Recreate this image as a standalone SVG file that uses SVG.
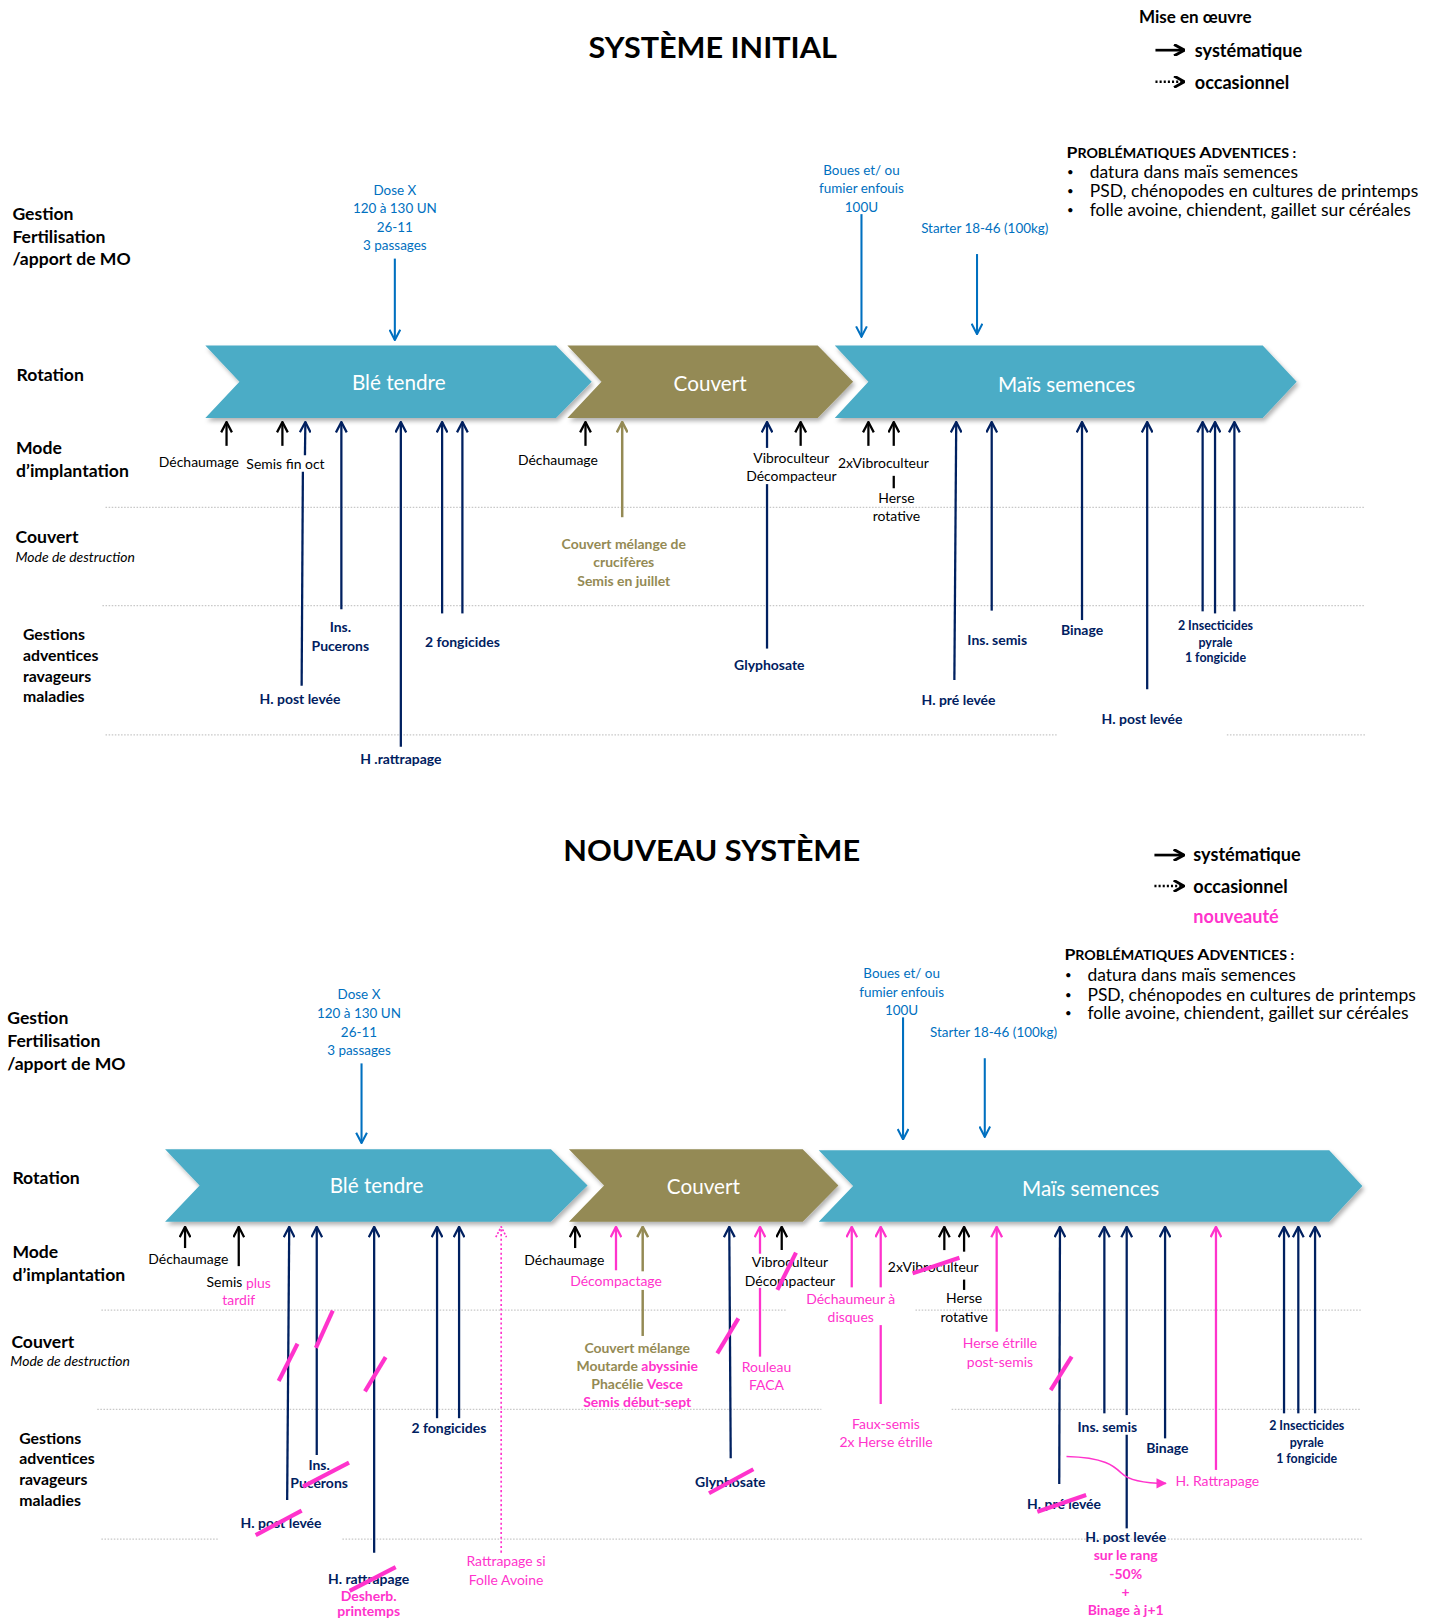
<svg xmlns="http://www.w3.org/2000/svg" width="1442" height="1622" viewBox="0 0 1442 1622">
<style>
text{font-family:Lato,"Liberation Sans",sans-serif;}
.c{dominant-baseline:central;text-anchor:middle;}
.s{dominant-baseline:central;text-anchor:start;}
.lb{font-weight:bold;font-size:17px;fill:#000;}
.lg{font-weight:bold;font-size:15.3px;fill:#000;}
.it{font-style:italic;font-size:13.5px;fill:#000;}
.t{font-size:13.5px;fill:#000;}
.nv{font-size:13.5px;font-weight:bold;fill:#002060;}
.nvs{font-size:12px;font-weight:bold;fill:#002060;}
.bl{font-size:13px;fill:#0070C0;}
.ol{font-size:13.5px;font-weight:bold;fill:#948A54;}
.pk{font-size:13.5px;fill:#FF33CC;}
.pkb{font-size:13.5px;font-weight:bold;fill:#FF33CC;}
.ttl{font-weight:bold;font-size:27px;fill:#000;}
.leg{font-weight:bold;font-size:17.5px;fill:#000;}
.legp{font-weight:bold;font-size:17.5px;fill:#FF33CC;}
.pb{font-size:16.9px;fill:#000;}
.bu{font-size:11px;fill:#000;}
.chv{font-size:20px;fill:#fff;}
.sep{stroke:#C8C8C8;stroke-width:1.2;stroke-dasharray:1.5 1.5;fill:none;}
.ak{stroke:#000;stroke-width:2.2;fill:none;marker-end:url(#hk);}
.an{stroke:#002060;stroke-width:2.2;fill:none;marker-end:url(#hn);}
.nl{stroke:#002060;stroke-width:2.2;fill:none;}
.ab{stroke:#0070C0;stroke-width:2;fill:none;marker-end:url(#hb);}
.ao{stroke:#948A54;stroke-width:2.4;fill:none;marker-end:url(#ho);}
.ol2{stroke:#948A54;stroke-width:2.4;fill:none;}
.ap{stroke:#FF33CC;stroke-width:2.2;fill:none;marker-end:url(#hp);}
.pl{stroke:#FF33CC;stroke-width:2.2;fill:none;}
.apd{stroke:#FF33CC;stroke-width:1.6;stroke-dasharray:2 2.5;fill:none;marker-end:url(#hpd);}
.ln{stroke-width:2.2;fill:none;}
.sl{stroke:#FF33CC;stroke-width:4;stroke-linecap:butt;}
</style>
<defs>
<filter id="sh" x="-5%" y="-20%" width="110%" height="150%"><feDropShadow dx="2" dy="3" stdDeviation="2" flood-color="#000" flood-opacity="0.3"/></filter>
<marker id="hk" markerUnits="userSpaceOnUse" viewBox="0 0 12 12" markerWidth="12" markerHeight="12" refX="11" refY="6" orient="auto"><path d="M1,0.8 L11,6 L1,11.2" fill="none" stroke="#000" stroke-width="2.2"/></marker>
<marker id="hn" markerUnits="userSpaceOnUse" viewBox="0 0 12 12" markerWidth="12" markerHeight="12" refX="11" refY="6" orient="auto"><path d="M1,0.8 L11,6 L1,11.2" fill="none" stroke="#002060" stroke-width="2.2"/></marker>
<marker id="hb" markerUnits="userSpaceOnUse" viewBox="0 0 12 12" markerWidth="12" markerHeight="12" refX="11" refY="6" orient="auto"><path d="M1,0.8 L11,6 L1,11.2" fill="none" stroke="#0070C0" stroke-width="2"/></marker>
<marker id="ho" markerUnits="userSpaceOnUse" viewBox="0 0 12 12" markerWidth="12" markerHeight="12" refX="11" refY="6" orient="auto"><path d="M1,0.8 L11,6 L1,11.2" fill="none" stroke="#948A54" stroke-width="2.4"/></marker>
<marker id="hp" markerUnits="userSpaceOnUse" viewBox="0 0 12 12" markerWidth="12" markerHeight="12" refX="11" refY="6" orient="auto"><path d="M1,0.8 L11,6 L1,11.2" fill="none" stroke="#FF33CC" stroke-width="2.2"/></marker>
<marker id="hpd" markerUnits="userSpaceOnUse" viewBox="0 0 12 12" markerWidth="12" markerHeight="12" refX="11" refY="6" orient="auto"><path d="M1,0.8 L11,6 L1,11.2" fill="none" stroke="#FF33CC" stroke-width="1.6" stroke-dasharray="2 1.5"/></marker>
<marker id="tp" markerUnits="userSpaceOnUse" viewBox="0 0 10 10" markerWidth="10" markerHeight="10" refX="9" refY="5" orient="auto"><path d="M0,0 L10,5 L0,10 Z" fill="#FF33CC"/></marker>
<marker id="hl" markerUnits="userSpaceOnUse" viewBox="0 0 12 12" markerWidth="12" markerHeight="12" refX="11" refY="6" orient="auto"><path d="M1,0.5 L11,6 L1,11.5" fill="none" stroke="#000" stroke-width="2.8"/></marker>
</defs>
<rect x="0" y="0" width="1442" height="1622" fill="#fff"/>
<g transform="scale(1.03443)">

<!-- ================= SYSTEME INITIAL ================= -->
<g id="title-initial"><text class="c ttl" x="689" y="45" textLength="240" lengthAdjust="spacingAndGlyphs">SYSTÈME INITIAL</text></g>
<g id="legend-initial">
<text class="s" x="1101" y="16" font-weight="bold" font-size="16.5">Mise en œuvre</text>
<line x1="1117" y1="48.5" x2="1145" y2="48.5" stroke="#000" stroke-width="2.6" marker-end="url(#hl)"/>
<text class="s leg" x="1155" y="48.5">systématique</text>
<line x1="1117" y1="79" x2="1145" y2="79" stroke="#000" stroke-width="2.4" stroke-dasharray="2 2" marker-end="url(#hl)"/>
<text class="s leg" x="1155" y="79">occasionnel</text>
</g>
<g id="problematiques-initial">
<text x="1031" y="153" font-weight="bold" fill="#000" textLength="222" lengthAdjust="spacingAndGlyphs"><tspan font-size="15.5">P</tspan><tspan font-size="12.5">ROBLÉMATIQUES </tspan><tspan font-size="15.5">A</tspan><tspan font-size="12.5">DVENTICES :</tspan></text>
<text class="s bu" x="1031.5" y="166">•</text><text class="s pb" x="1053.5" y="166">datura dans maïs semences</text>
<text class="s bu" x="1031.5" y="184.6">•</text><text class="s pb" x="1053.5" y="184.6">PSD, chénopodes en cultures de printemps</text>
<text class="s bu" x="1031.5" y="202.4">•</text><text class="s pb" x="1053.5" y="202.4">folle avoine, chiendent, gaillet sur céréales</text>
</g>
<g id="rows-initial">
<text class="s lb" x="12" y="206.2">Gestion</text>
<text class="s lb" x="12" y="228.8">Fertilisation</text>
<text class="s lb" x="12" y="250">/apport de MO</text>
<text class="s lb" x="16" y="361.6">Rotation</text>
<text class="s lb" x="15.5" y="432.5">Mode</text>
<text class="s lb" x="15.5" y="454.4">d’implantation</text>
<text class="s lb" x="15" y="518.8">Couvert</text>
<text class="s it" x="15" y="538.2">Mode de destruction</text>
<text class="s lg" x="22.2" y="612.3">Gestions</text>
<text class="s lg" x="22.2" y="632.3">adventices</text>
<text class="s lg" x="22.2" y="652.6">ravageurs</text>
<text class="s lg" x="22.2" y="671.9">maladies</text>
<line class="sep" x1="102" y1="490.5" x2="1320" y2="490.5"/>
<line class="sep" x1="99" y1="585.5" x2="1320" y2="585.5"/>
<line class="sep" x1="102" y1="710.5" x2="1023" y2="710.5"/>
<line class="sep" x1="1186" y1="710.5" x2="1320" y2="710.5"/>
</g>
<g id="ble-initial"><path filter="url(#sh)" d="M198.5,334 L537.5,334 L572,369 L537.5,404 L198.5,404 L231.5,369 Z" fill="#4BACC6"/><text class="c chv" x="385.5" y="369" font-size="18">Blé tendre</text></g>
<g id="couvert-initial"><path filter="url(#sh)" d="M548.5,334 L790.5,334 L824.7,369 L790.5,404 L548.5,404 L581.5,369 Z" fill="#948A54"/><text class="c chv" x="686.5" y="370">Couvert</text></g>
<g id="mais-initial"><path filter="url(#sh)" d="M807,334 L1220.7,334 L1253.5,369 L1220.7,404 L807,404 L839.5,369 Z" fill="#4BACC6"/><text class="c chv" x="1031" y="371" font-size="21">Maïs semences</text></g>

<g id="connectors-initial">
<line class="ab" x1="381.7" y1="250" x2="381.7" y2="328.7"/>
<line class="ab" x1="832.8" y1="207" x2="832.8" y2="325.5"/>
<line class="ab" x1="944.5" y1="245.6" x2="944.5" y2="323"/>
<line class="ak" x1="219" y1="431" x2="219" y2="408"/>
<line class="ak" x1="273" y1="431" x2="273" y2="408"/>
<line class="ak" x1="566" y1="431" x2="566" y2="408"/>
<line class="ak" x1="774" y1="431" x2="774" y2="408"/>
<line class="ak" x1="839.5" y1="431" x2="839.5" y2="408"/>
<line class="ak" x1="864" y1="431" x2="864" y2="408"/>
<line class="ln" stroke="#000" x1="864" y1="460" x2="864" y2="472"/>
<line class="nl" x1="291.6" y1="663" x2="292.8" y2="456"/>
<line class="an" x1="294.8" y1="440" x2="295.2" y2="408"/>
<line class="an" x1="330" y1="589" x2="330" y2="408"/>
<line class="an" x1="387.5" y1="722" x2="387.5" y2="408"/>
<line class="an" x1="427.4" y1="593" x2="427.4" y2="408"/>
<line class="an" x1="447" y1="593" x2="447" y2="408"/>
<line class="ao" x1="601.5" y1="500" x2="601.5" y2="408"/>
<line class="nl" x1="741.5" y1="627" x2="741.5" y2="468"/>
<line class="an" x1="741.5" y1="433" x2="741.5" y2="408"/>
<line class="an" x1="922.6" y1="657.4" x2="924.4" y2="408"/>
<line class="an" x1="958.7" y1="590.3" x2="958.7" y2="408"/>
<line class="an" x1="1046" y1="599.4" x2="1046" y2="408"/>
<line class="an" x1="1109" y1="666.4" x2="1109" y2="408"/>
<line class="an" x1="1162.6" y1="591" x2="1162.6" y2="408"/>
<line class="an" x1="1174.6" y1="593" x2="1174.6" y2="408"/>
<line class="an" x1="1193.3" y1="591" x2="1193.3" y2="408"/>
</g>

<g id="labels-initial">
<text class="c bl" x="381.7" y="183.7">Dose X</text>
<text class="c bl" x="381.7" y="201.4">120 à 130 UN</text>
<text class="c bl" x="381.7" y="219.1">26-11</text>
<text class="c bl" x="381.7" y="237.2">3 passages</text>
<text class="c bl" x="832.8" y="164.3">Boues et/ ou</text>
<text class="c bl" x="832.8" y="182.1">fumier enfouis</text>
<text class="c bl" x="832.8" y="199.8">100U</text>
<text class="c bl" x="952" y="220.8">Starter 18-46 (100kg)</text>
<text class="c t" x="192.2" y="445.7">Déchaumage</text>
<text class="c t" x="276" y="448">Semis fin oct</text>
<text class="c nv" x="290" y="675">H. post levée</text>
<text class="c nv" x="329" y="605.8">Ins.</text>
<text class="c nv" x="329" y="623.6">Pucerons</text>
<text class="c nv" x="387.5" y="733">H .rattrapage</text>
<text class="c nv" x="447" y="619.7">2 fongicides</text>
<text class="c t" x="539.3" y="444">Déchaumage</text>
<text class="c ol" x="603" y="525.3">Couvert mélange de</text>
<text class="c ol" x="603" y="543">crucifères</text>
<text class="c ol" x="603" y="560.7">Semis en juillet</text>
<text class="c nv" x="743.7" y="642.2">Glyphosate</text>
<text class="c t" x="765" y="442">Vibroculteur</text>
<text class="c t" x="765" y="460">Décompacteur</text>
<text class="c t" x="854" y="447.3">2xVibroculteur</text>
<text class="c t" x="866.6" y="480.8">Herse</text>
<text class="c t" x="866.6" y="498">rotative</text>
<text class="c nv" x="926.6" y="676">H. pré levée</text>
<text class="c nv" x="964" y="617.8">Ins. semis</text>
<text class="c nv" x="1046" y="609">Binage</text>
<text class="c nv" x="1104" y="694.4">H. post levée</text>
<text class="c nvs" x="1175" y="604.2">2 Insecticides</text>
<text class="c nvs" x="1175" y="621">pyrale</text>
<text class="c nvs" x="1175" y="635.8">1 fongicide</text>
</g>

<!-- ================= NOUVEAU SYSTEME ================= -->
<g id="title-nouveau"><text class="c ttl" x="688" y="821.7" textLength="287" lengthAdjust="spacingAndGlyphs">NOUVEAU SYSTÈME</text></g>
<g id="legend-nouveau">
<line x1="1116" y1="826.6" x2="1144.6" y2="826.6" stroke="#000" stroke-width="2.6" marker-end="url(#hl)"/>
<text class="s leg" x="1153.6" y="826">systématique</text>
<line x1="1116" y1="856.5" x2="1144.6" y2="856.5" stroke="#000" stroke-width="2.4" stroke-dasharray="2 2" marker-end="url(#hl)"/>
<text class="s leg" x="1153.6" y="856.5">occasionnel</text>
<text class="s legp" x="1153.6" y="885.6">nouveauté</text>
</g>
<g id="problematiques-nouveau">
<text x="1029" y="928" font-weight="bold" fill="#000" textLength="222" lengthAdjust="spacingAndGlyphs"><tspan font-size="15.5">P</tspan><tspan font-size="12.5">ROBLÉMATIQUES </tspan><tspan font-size="15.5">A</tspan><tspan font-size="12.5">DVENTICES :</tspan></text>
<text class="s bu" x="1029.5" y="941.9">•</text><text class="s pb" x="1051.2" y="941.9">datura dans maïs semences</text>
<text class="s bu" x="1029.5" y="961.2">•</text><text class="s pb" x="1051.2" y="961.2">PSD, chénopodes en cultures de printemps</text>
<text class="s bu" x="1029.5" y="978.6">•</text><text class="s pb" x="1051.2" y="978.6">folle avoine, chiendent, gaillet sur céréales</text>
</g>
<g id="rows-nouveau">
<text class="s lb" x="7" y="983.5">Gestion</text>
<text class="s lb" x="7" y="1005.4">Fertilisation</text>
<text class="s lb" x="7" y="1028">/apport de MO</text>
<text class="s lb" x="12" y="1138.5">Rotation</text>
<text class="s lb" x="12" y="1210">Mode</text>
<text class="s lb" x="12" y="1232">d’implantation</text>
<text class="s lb" x="11" y="1297">Couvert</text>
<text class="s it" x="10" y="1315.7">Mode de destruction</text>
<text class="s lg" x="18.6" y="1389.5">Gestions</text>
<text class="s lg" x="18.6" y="1409.2">adventices</text>
<text class="s lg" x="18.6" y="1429.1">ravageurs</text>
<text class="s lg" x="18.6" y="1449.2">maladies</text>
<line class="sep" x1="98" y1="1266.5" x2="760" y2="1266.5"/>
<line class="sep" x1="885" y1="1266.5" x2="1317" y2="1266.5"/>
<line class="sep" x1="94" y1="1362.4" x2="794" y2="1362.4"/>
<line class="sep" x1="920" y1="1362.4" x2="1316" y2="1362.4"/>
<line class="sep" x1="98" y1="1488" x2="211" y2="1488"/>
<line class="sep" x1="331" y1="1488" x2="1317" y2="1488"/>
</g>
<g id="ble-nouveau"><path filter="url(#sh)" d="M159.6,1111 L532.6,1111 L568,1146 L532.6,1181 L159.6,1181 L193,1146 Z" fill="#4BACC6"/><text class="c chv" x="364" y="1145.5" font-size="18">Blé tendre</text></g>
<g id="couvert-nouveau"><path filter="url(#sh)" d="M550,1111 L776,1111 L810.5,1146 L776,1181 L550,1181 L584,1146 Z" fill="#948A54"/><text class="c chv" x="680" y="1146.5">Couvert</text></g>
<g id="mais-nouveau"><path filter="url(#sh)" d="M791.5,1112 L1285,1112 L1317,1146.5 L1285,1181 L791.5,1181 L824.7,1146.5 Z" fill="#4BACC6"/><text class="c chv" x="1054.4" y="1148" font-size="21">Maïs semences</text></g>

<g id="connectors-nouveau">
<line class="ab" x1="349.5" y1="1028" x2="349.5" y2="1105"/>
<line class="ab" x1="873" y1="983.5" x2="873" y2="1101.5"/>
<line class="ab" x1="952" y1="1023" x2="952" y2="1099"/>
<line class="ak" x1="178.9" y1="1206.5" x2="178.9" y2="1186"/>
<line class="ak" x1="230.8" y1="1224" x2="230.8" y2="1186"/>
<line class="ak" x1="556" y1="1206.5" x2="556" y2="1186"/>
<line class="ak" x1="755.7" y1="1208.4" x2="755.7" y2="1186"/>
<line class="ak" x1="912.9" y1="1208.5" x2="912.9" y2="1186"/>
<line class="ak" x1="932" y1="1210" x2="932" y2="1186"/>
<line class="ln" stroke="#000" x1="932" y1="1237" x2="932" y2="1247"/>
<line class="an" x1="277.6" y1="1450" x2="279.6" y2="1186"/>
<line class="an" x1="306.2" y1="1406.6" x2="306.2" y2="1186"/>
<line class="an" x1="361.7" y1="1501" x2="361.7" y2="1186"/>
<line class="an" x1="422.5" y1="1371" x2="422.5" y2="1186"/>
<line class="an" x1="443.8" y1="1371" x2="443.8" y2="1186"/>
<line class="apd" x1="484.5" y1="1501" x2="484.5" y2="1186"/>
<line class="ap" x1="595.5" y1="1228" x2="595.5" y2="1186"/>
<line class="ol2" x1="621.3" y1="1291.5" x2="621.3" y2="1247"/>
<line class="ao" x1="621.3" y1="1229" x2="621.3" y2="1186"/>
<line class="an" x1="706.4" y1="1409.8" x2="705" y2="1186"/>
<line class="pl" x1="734.7" y1="1311.5" x2="734.7" y2="1245"/>
<line class="ap" x1="734.7" y1="1212" x2="734.7" y2="1186"/>
<line class="ap" x1="823.4" y1="1244.5" x2="823.4" y2="1186"/>
<line class="pl" x1="851.4" y1="1357.3" x2="851.4" y2="1281"/>
<line class="ap" x1="851.4" y1="1244.5" x2="851.4" y2="1186"/>
<line class="ap" x1="963.5" y1="1287.4" x2="963.5" y2="1186"/>
<line class="an" x1="1024" y1="1434.7" x2="1024.7" y2="1186"/>
<line class="an" x1="1067.6" y1="1366.3" x2="1067.6" y2="1186"/>
<line class="nl" x1="1089.2" y1="1477.5" x2="1089.2" y2="1387"/>
<line class="an" x1="1089.2" y1="1368" x2="1089.2" y2="1186"/>
<line class="an" x1="1126.3" y1="1390.5" x2="1126.3" y2="1186"/>
<line class="ap" x1="1175.5" y1="1421" x2="1175.5" y2="1186"/>
<line class="an" x1="1241.3" y1="1366.3" x2="1241.3" y2="1186"/>
<line class="an" x1="1255.1" y1="1366.3" x2="1255.1" y2="1186"/>
<line class="an" x1="1271.3" y1="1366.3" x2="1271.3" y2="1186"/>
<path d="M1031,1408 C1068,1409 1077,1417 1084,1424 C1091,1431 1104,1434 1127,1434" stroke="#FF33CC" stroke-width="1.6" fill="none" marker-end="url(#tp)"/>
</g>

<g id="labels-nouveau">
<text class="c bl" x="347" y="961.3">Dose X</text>
<text class="c bl" x="347" y="979">120 à 130 UN</text>
<text class="c bl" x="347" y="997.3">26-11</text>
<text class="c bl" x="347" y="1015">3 passages</text>
<text class="c bl" x="871.6" y="941">Boues et/ ou</text>
<text class="c bl" x="871.6" y="958.7">fumier enfouis</text>
<text class="c bl" x="871.6" y="976.4">100U</text>
<text class="c bl" x="960.5" y="997.3">Starter 18-46 (100kg)</text>
<text class="c t" x="182" y="1217">Déchaumage</text>
<text class="c t" x="230.8" y="1239">Semis <tspan style="fill:#FF33CC">plus</tspan></text>
<text class="c pk" x="230.8" y="1256">tardif</text>
<text class="c nv" x="271.7" y="1471.7">H. post levée</text>
<text class="c nv" x="308.5" y="1415.3">Ins.</text>
<text class="c nv" x="308.5" y="1433">Pucerons</text>
<text class="c nv" x="356.4" y="1526">H. rattrapage</text>
<text class="c pkb" x="356.4" y="1542">Desherb.</text>
<text class="c pkb" x="356.4" y="1557">printemps</text>
<text class="c nv" x="434" y="1380.2">2 fongicides</text>
<text class="c pk" x="489.2" y="1509">Rattrapage si</text>
<text class="c pk" x="489.2" y="1526.8">Folle Avoine</text>
<text class="c t" x="545.5" y="1218">Déchaumage</text>
<text class="c pk" x="595.5" y="1238">Décompactage</text>
<text class="c ol" x="616" y="1302.8">Couvert mélange</text>
<text class="c ol" x="616" y="1320">Moutarde <tspan style="fill:#FF33CC">abyssinie</tspan></text>
<text class="c ol" x="616" y="1337">Phacélie <tspan style="fill:#FF33CC">Vesce</tspan></text>
<text class="c pkb" x="616" y="1355">Semis début-sept</text>
<text class="c nv" x="706" y="1431.8">Glyphosate</text>
<text class="c pk" x="741" y="1321">Rouleau</text>
<text class="c pk" x="741" y="1338">FACA</text>
<text class="c t" x="763.7" y="1219.7">Vibroculteur</text>
<text class="c t" x="763.7" y="1237.5">Décompacteur</text>
<text class="c pk" x="822.4" y="1255">Déchaumeur à</text>
<text class="c pk" x="822.4" y="1273">disques</text>
<text class="c t" x="902.2" y="1224.6">2xVibroculteur</text>
<text class="c t" x="932" y="1254.2">Herse</text>
<text class="c t" x="932" y="1272.2">rotative</text>
<text class="c pk" x="856.5" y="1376">Faux-semis</text>
<text class="c pk" x="856.5" y="1393.6">2x Herse étrille</text>
<text class="c pk" x="966.7" y="1298">Herse étrille</text>
<text class="c pk" x="966.7" y="1316">post-semis</text>
<text class="c nv" x="1028.6" y="1453.3">H. pré levée</text>
<text class="c nv" x="1070.5" y="1379.2">Ins. semis</text>
<text class="c nv" x="1128.5" y="1399.2">Binage</text>
<text class="c pk" x="1176.8" y="1431.4" font-size="13.8">H. Rattrapage</text>
<text class="c nv" x="1088.2" y="1485">H. post levée</text>
<text class="c pkb" x="1088.2" y="1503">sur le rang</text>
<text class="c pkb" x="1088.2" y="1521">-50%</text>
<text class="c pkb" x="1088.2" y="1539">+</text>
<text class="c pkb" x="1088.2" y="1555.8">Binage à j+1</text>
<text class="c nvs" x="1263.2" y="1377.6">2 Insecticides</text>
<text class="c nvs" x="1263.2" y="1394.6">pyrale</text>
<text class="c nvs" x="1263.2" y="1409.8">1 fongicide</text>
</g>

<g id="strikes-nouveau">
<line class="sl" x1="287.6" y1="1299" x2="269.4" y2="1335"/>
<line class="sl" x1="321.7" y1="1267" x2="305.4" y2="1303"/>
<line class="sl" x1="372.8" y1="1312" x2="352.8" y2="1345"/>
<line class="sl" x1="337.4" y1="1414" x2="292.9" y2="1437.2"/>
<line class="sl" x1="291.6" y1="1460.4" x2="247.2" y2="1484"/>
<line class="sl" x1="382.5" y1="1515" x2="338" y2="1538"/>
<line class="sl" x1="713.8" y1="1274.5" x2="693.4" y2="1308.3"/>
<line class="sl" x1="728.3" y1="1420.4" x2="685.4" y2="1443.6"/>
<line class="sl" x1="769.5" y1="1211" x2="751.5" y2="1247"/>
<line class="sl" x1="927.5" y1="1215.9" x2="882.2" y2="1231"/>
<line class="sl" x1="1036" y1="1311.5" x2="1015.7" y2="1343.8"/>
<line class="sl" x1="1050" y1="1445.3" x2="1002.8" y2="1461.4"/>
</g>
</g>
</svg>
